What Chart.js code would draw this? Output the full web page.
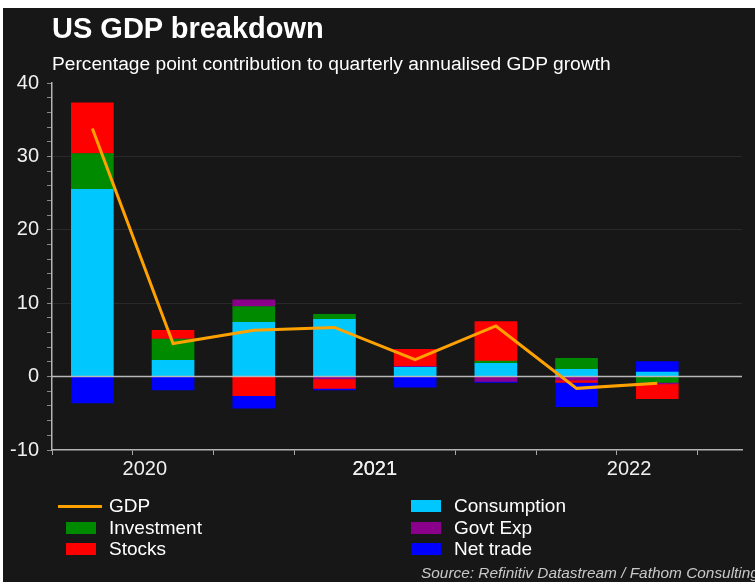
<!DOCTYPE html>
<html>
<head>
<meta charset="utf-8">
<script src="https://cdn.jsdelivr.net/npm/chart.js@4.4.1/dist/chart.umd.min.js"></script>
<style>
  body { margin: 0; width: 755px; height: 582px; overflow: hidden; position: relative; background: #fff;
         font-family: 'Liberation Sans', Arial, sans-serif; color: #fff; }
  #panel { position: absolute; left: 3px; top: 8px; right: 0; bottom: 0; background: #171717; }
  #chart { position: absolute; left: 0; top: 0; }
  .title { position: absolute; left: 52px; top: 14px; font-size: 29px; line-height: 29px; font-weight: bold; white-space: nowrap; }
  .subtitle { position: absolute; left: 52px; top: 54px; font-size: 19.2px; line-height: 19px; white-space: nowrap; }
  .source { position: absolute; left: 421px; top: 565px; font-size: 15.4px; line-height: 16px; font-style: italic; color: #c8c8c8; white-space: nowrap; }
  .leg { position: absolute; font-size: 19px; line-height: 20px; white-space: nowrap; }
  .sw { position: absolute; }
</style>
</head>
<body>
<div id="panel"></div>
<canvas id="chart" width="755" height="582"></canvas>
<div class="title">US GDP breakdown</div>
<div class="subtitle">Percentage point contribution to quarterly annualised GDP growth</div>
<div id="legend"></div>
<div class="source">Source: Refinitiv Datastream / Fathom Consulting</div>
<script>
// quarters shown, 2020 Q3 .. 2022 Q2
const quarters = ['2020 Q3', '2020 Q4', '2021 Q1', '2021 Q2', '2021 Q3', '2021 Q4', '2022 Q1', '2022 Q2'];
const years = ['2020', '2021', '2022'];
const yearAt = [0.65, 3.5, 6.65]; // where the year label sits, in quarter index units

// percentage point contributions
const gdp         = [33.8, 4.5, 6.3, 6.7, 2.3, 6.9, -1.6, -0.9];
const consumption = [25.5, 2.2, 7.4, 7.8, 1.25, 1.8, 1.0, 0.6];
const investment  = [4.9, 2.9, 2.15, 0.7, 0, 0.3, 1.5, -0.8];
const govtExp     = [0, 0, 0.9, -0.3, 0.15, -0.65, -0.5, -0.2];
const stocks      = [6.9, 1.2, -2.6, -1.3, 2.3, 5.4, -0.3, -2.0];
const netTrade    = [-3.6, -1.8, -1.7, -0.2, -1.45, -0.15, -3.3, 1.45];

const toXY = arr => arr.map((v, i) => ({ x: i, y: v }));

const bar = (label, data, color) => ({
  type: 'bar', label, data: toXY(data), backgroundColor: color,
  borderWidth: 0, barThickness: 42, order: 1, stack: 'parts'
});

const datasets = [
  bar('Consumption', consumption, '#00c8ff'),
  bar('Investment', investment, '#008a00'),
  bar('Govt Exp', govtExp, '#8a008a'),
  bar('Stocks', stocks, '#ff0000'),
  bar('Net trade', netTrade, '#0000ff'),
  { type: 'line', label: 'GDP', data: toXY(gdp), borderColor: '#ffa200', borderWidth: 3,
    pointRadius: 0, tension: 0, order: 0, stack: 'gdp' }
];

// tick marks sit between quarters
const boundaries = Array.from({ length: quarters.length + 1 }, (_, i) => i - 0.5);
const xMin = -0.5, xMax = 8.05;

// zero line goes on top of the bars, under the GDP line
const zeroLine = {
  id: 'zeroLine',
  beforeDatasetDraw(chart, args) {
    if (args.meta.type !== 'line') return;
    const { ctx, chartArea, scales } = chart;
    const y = scales.y.getPixelForValue(0);
    ctx.save();
    ctx.strokeStyle = '#b8b8b8';
    ctx.lineWidth = 1.5;
    ctx.beginPath();
    ctx.moveTo(chartArea.left, y);
    ctx.lineTo(chartArea.right, y);
    ctx.stroke();
    ctx.restore();
  }
};

const chart = new Chart(document.getElementById('chart'), {
  data: { datasets },
  plugins: [zeroLine],
  options: {
    responsive: false,
    animation: false,
    layout: { padding: { left: 0, right: 13, top: 83, bottom: 92 } },
    plugins: { legend: { display: false }, tooltip: { enabled: false } },
    scales: {
      x: {
        type: 'linear', min: xMin, max: xMax, stacked: true, offset: false,
        afterBuildTicks: s => {
          s.ticks = boundaries.map(v => ({ value: v }))
            .concat(yearAt.map(v => ({ value: v })))
            .sort((a, b) => a.value - b.value);
        },
        afterFit: s => { s.height = 40; },
        ticks: {
          autoSkip: false, maxRotation: 0, padding: 2, color: '#f0f0f0',
          font: { size: 20, family: "'Liberation Sans', Arial, sans-serif" },
          callback: v => { const k = yearAt.indexOf(v); return k >= 0 ? years[k] : ''; }
        },
        grid: {
          offset: false, drawOnChartArea: false, tickLength: 5,
          tickColor: c => (c.tick && yearAt.includes(c.tick.value)) ? 'rgba(0,0,0,0)' : '#a8a8a8'
        },
        border: { color: '#b4b4b4', width: 1.5 }
      },
      y: {
        min: -10, max: 40, stacked: true,
        afterFit: s => { s.width = 52; },
        ticks: {
          stepSize: 2, autoSkip: false, padding: 8, color: '#f0f0f0',
          font: { size: 20, family: "'Liberation Sans', Arial, sans-serif" },
          callback: v => (v % 10 === 0 ? v : '')
        },
        grid: {
          tickLength: 5, tickColor: '#8a8a8a',
          color: c => {
            const v = c.tick ? c.tick.value : null;
            return (v === 10 || v === 20 || v === 30) ? '#292929' : 'rgba(0,0,0,0)';
          }
        },
        border: { color: '#b4b4b4', width: 1.5 }
      }
    }
  }
});

// legend in two columns, as in the original
const legendRows = [
  ['GDP', 'Consumption'],
  ['Investment', 'Govt Exp'],
  ['Stocks', 'Net trade']
];
const legendEl = document.getElementById('legend');
const colX = [{ sw: 66, txt: 109 }, { sw: 411, txt: 454 }];
legendRows.forEach((row, r) => {
  const cy = 506 + r * 21.5;
  row.forEach((name, c) => {
    const ds = datasets.find(d => d.label === name);
    const sw = document.createElement('div');
    sw.className = 'sw';
    if (ds.type === 'line') {
      sw.style.cssText = `left:${colX[c].sw - 8}px;top:${cy - 1.5}px;width:44px;height:3px;background:${ds.borderColor}`;
    } else {
      sw.style.cssText = `left:${colX[c].sw}px;top:${cy - 6}px;width:30px;height:12px;background:${ds.backgroundColor}`;
    }
    legendEl.appendChild(sw);
    const t = document.createElement('div');
    t.className = 'leg';
    t.textContent = name;
    t.style.left = colX[c].txt + 'px';
    t.style.top = (cy - 10) + 'px';
    legendEl.appendChild(t);
  });
});
</script>
</body>
</html>
